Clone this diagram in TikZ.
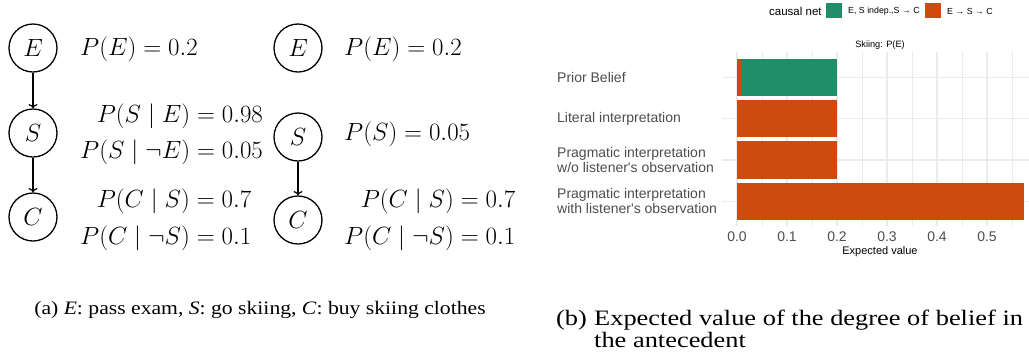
\documentclass[tikz,border=0pt]{standalone}
\usepackage{fontspec}
\setmainfont{Liberation Serif}
\newfontfamily\capfont{Liberation Serif}[FakeStretch=1.14]
\newfontfamily\capwidefont{Liberation Serif}[FakeStretch=1.2]
\newfontfamily\chartfont{Liberation Sans}
\usepackage{tikz}
\usetikzlibrary{positioning,arrows.meta}
\definecolor{netgreen}{HTML}{1E8F68}
\definecolor{netorange}{HTML}{CD4B0C}
\definecolor{gridgrey}{HTML}{EBEBEB}
\definecolor{axisgrey}{HTML}{4D4D4D}

\begin{document}
\begin{tikzpicture}[x=1pt,y=-1pt,
  var/.style={circle,draw,line width=1.3pt,minimum size=48pt,inner sep=0pt,
              font=\fontsize{24}{29}\selectfont},
  prob/.style={inner sep=0pt,font=\fontsize{24}{29}\selectfont},
  arr/.style={->,line width=1.2pt},
  capa/.style={inner sep=0pt,font=\capfont\fontsize{19}{23}\selectfont},
  capb/.style={inner sep=0pt,font=\capwidefont\fontsize{22}{21}\selectfont,anchor=base west},
  gridmajor/.style={gridgrey,line width=1.1pt},
  gridminor/.style={gridgrey,line width=0.55pt},
  catlabel/.style={anchor=west,align=left,inner sep=0pt,text=axisgrey,
                   font=\chartfont\fontsize{14}{15}\selectfont},
  ticklabel/.style={inner sep=0pt,text=axisgrey,font=\chartfont\fontsize{14}{16}\selectfont},
  keybox/.style={minimum width=16pt,minimum height=15pt,inner sep=0pt},
  keylabel/.style={anchor=west,inner sep=0pt,font=\chartfont\fontsize{8.8}{10}\selectfont},
]
\useasboundingbox (0,0) rectangle (1029,360);

\node[var] (E1) at (33,48) {$E$};
\node[var] (S1) at (33,133) {$S$};
\node[var] (C1) at (33,217) {$C$};
\node[var] (E2) at (298,48) {$E$};
\node[var] (S2) at (298,137) {$S$};
\node[var] (C2) at (298,220) {$C$};

\node[prob,anchor=base west] (pE1) at (80,55) {$P(E)=0.2$};
\node[prob,anchor=base west] (pSnE1) at (80,158) {$P(S\mid\neg E)=0.05$};
\node[prob,anchor=base east] (pSE1) at (pSnE1.base east |- 0,122) {$P(S\mid E)=0.98$};
\node[prob,anchor=base west] (pCnS1) at (80,244) {$P(C\mid\neg S)=0.1$};
\node[prob,anchor=base east] (pCS1) at (pCnS1.base east |- 0,207) {$P(C\mid S)=0.7$};

\node[prob,anchor=base west] (pE2) at (344,55) {$P(E)=0.2$};
\node[prob,anchor=base west] (pS2) at (344,140) {$P(S)=0.05$};
\node[prob,anchor=base west] (pCnS2) at (344,244) {$P(C\mid\neg S)=0.1$};
\node[prob,anchor=base east] (pCS2) at (pCnS2.base east |- 0,207) {$P(C\mid S)=0.7$};

\draw[arr] (E1) -- (S1);
\draw[arr] (S1) -- (C1);
\draw[arr] (S2) -- (C2);

\node[capa,anchor=base] (capA) at (260,314)
  {(a) \textit{E}: pass exam, \textit{S}: go skiing, \textit{C}: buy skiing clothes};
\node[capb] (capB) at (556,325) {(b)};
\node[capb] (capB1) at (594,325) {Expected value of the degree of belief in};
\node[capb] (capB2) at (594,347) {the antecedent};

\foreach \gx in {762,812,...,1012} \draw[gridminor] (\gx,52) -- (\gx,226);
\foreach \gx in {737,787,...,987} \draw[gridmajor] (\gx,52) -- (\gx,226);
\foreach \gy in {77.5,118.8,160,201.3} \draw[gridmajor] (722,\gy) -- (1029,\gy);

\fill[netorange] (737,59) rectangle (741,96);
\fill[netgreen] (741,59) rectangle (837,96);
\fill[netorange] (737,100.2) rectangle (837,137.4);
\fill[netorange] (737,141.4) rectangle (837,178.6);
\fill[netorange] (737,182.7) rectangle (1024,219.9);

\node[catlabel] (lPrior) at (557,77.5) {Prior Belief};
\node[catlabel] (lLiteral) at (557,118.8) {Literal interpretation};
\node[catlabel] (lWithout) at (557,160) {Pragmatic interpretation\\w/o listener's observation};
\node[catlabel] (lWith) at (557,201.3) {Pragmatic interpretation\\with listener's observation};

\node[ticklabel] (t0) at (737,237) {0.0};
\node[ticklabel] (t1) at (787,237) {0.1};
\node[ticklabel] (t2) at (837,237) {0.2};
\node[ticklabel] (t3) at (887,237) {0.3};
\node[ticklabel] (t4) at (937,237) {0.4};
\node[ticklabel] (t5) at (987,237) {0.5};
\node[inner sep=0pt,font=\chartfont\fontsize{11}{13}\selectfont] (xtitle) at (880,252) {Expected value};
\node[inner sep=0pt,font=\chartfont\fontsize{9.2}{11}\selectfont] (ptitle) at (880,45) {Skiing: P(E)};

\node[anchor=west,inner sep=0pt,font=\chartfont\fontsize{11.5}{13}\selectfont] (legtitle) at (769,11) {causal net};
\node[keybox,fill=netgreen] (kGreen) at (834,10.5) {};
\node[keylabel] (lGreen) at (848,11) {E, S indep.,S → C};
\node[keybox,fill=netorange] (kOrange) at (933,10.5) {};
\node[keylabel] (lOrange) at (947,11) {E → S → C};
\end{tikzpicture}
\end{document}
